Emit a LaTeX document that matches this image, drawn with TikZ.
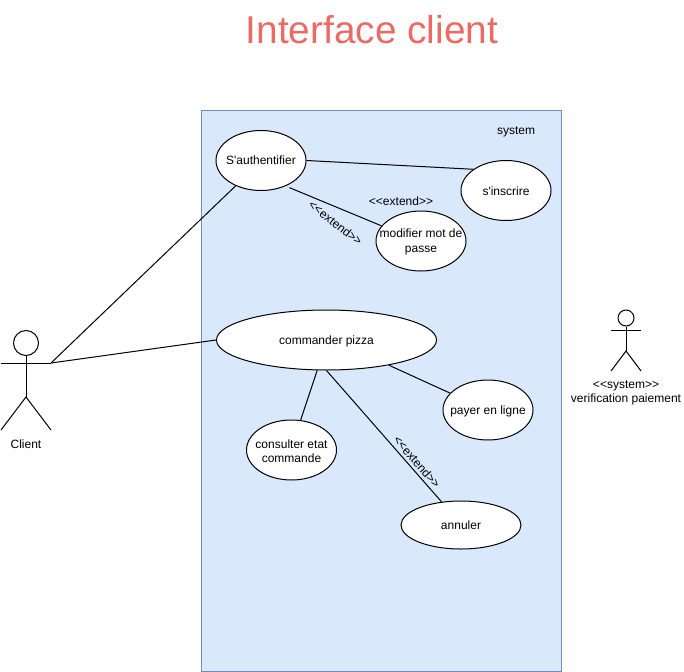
\documentclass[tikz,border=0pt]{standalone}
\usepackage{fontspec}
\setmainfont{Liberation Sans}
\usetikzlibrary{shapes.geometric}

\begin{document}
\begin{tikzpicture}[x=1pt,y=-1pt,line width=1pt]
	
	\tikzset{usecase/.style={draw,fill=white,ellipse,inner sep=0pt,minimum width=90pt,minimum height=60pt}}
	\tikzset{txt/.style={font=\fontsize{12}{14.4}\selectfont,align=center,inner sep=0pt,yshift=-1pt}}
	\definecolor{sysfill}{HTML}{DAE8FC}
	\definecolor{sysline}{HTML}{6C8EBF}
	\definecolor{titlered}{HTML}{EA6B66}
	
	\useasboundingbox (0,0) rectangle (684,671);
	
	\node[text=titlered,font=\fontsize{38.8}{46}\selectfont,inner sep=0pt] (title) at (372,30) {Interface client};
	
	% system box
	\draw[sysline,fill=sysfill] (201,110.5) rectangle (561,671);
	\node[txt] (system) at (516,131) {system};
	
	% use cases
	\node[usecase,label={[txt,yshift=1pt]center:S\textquotesingle authentifier}] (auth) at (261,160.5) {};
	\node[usecase,label={[txt]center:s\textquotesingle inscrire}] (inscrire) at (506,190.5) {};
	\node[usecase,label={[txt]center:modifier mot de\\passe}] (modifier) at (421,241) {};
	\node[usecase,minimum width=220pt,label={[txt]center:commander pizza}] (commander) at (326.5,340) {};
	\node[usecase,label={[txt]center:payer en ligne}] (payer) at (488,410) {};
	\node[usecase,label={[txt]center:consulter etat\\commande}] (consulter) at (291.5,450) {};
	\node[usecase,minimum width=120pt,minimum height=48pt,label={[txt,yshift=1pt]center:annuler}] (annuler) at (461,525) {};
	
	% client actor
	\node[draw,circle,inner sep=0pt,minimum size=25pt] (clienthead) at (26,343) {};
	\coordinate (clienthip) at (26,397);
	\coordinate (clientarm) at (1,363);
	\coordinate (clienthand) at (51,363);
	\coordinate (clientfootl) at (1,430);
	\coordinate (clientfootr) at (51,430);
	\draw (clienthead.south) -- (clienthip);
	\draw (clientarm) -- (clienthand);
	\draw (clientfootl) -- (clienthip) -- (clientfootr);
	\node[txt] (client) at (26,443.5) {Client};
	
	% system actor
	\node[draw,circle,inner sep=0pt,minimum size=16pt] (payhead) at (626,318) {};
	\coordinate (payhip) at (626,351);
	\coordinate (payarm) at (611,330);
	\coordinate (payhand) at (641,330);
	\coordinate (payfootl) at (611,371);
	\coordinate (payfootr) at (641,371);
	\draw (payhead.south) -- (payhip);
	\draw (payarm) -- (payhand);
	\draw (payfootl) -- (payhip) -- (payfootr);
	\node[txt] (verif) at (626,392) {<{}<system>{}>\\verification paiement};
	
	% connectors
	\draw (clienthand) -- (auth.-135);
	\draw (clienthand) -- (commander.west);
	\draw (auth.east) -- (inscrire.147);
	\draw[shorten <=4pt] (auth.-46) -- (modifier.159);
	\draw (commander.-107) -- (consulter.73);
	\draw (commander.-90) -- (annuler.130);
	\draw (commander.-22) -- (payer.156);
	
	% extend labels
	\node[txt] (extendtop) at (401,200) {<{}<extend>{}>};
	\node[txt,rotate=-38] (extendauth) at (335.5,222) {<{}<extend>{}>};
	\node[txt,rotate=-49] (extendannuler) at (417,461) {<{}<extend>{}>};
	
\end{tikzpicture}
\end{document}
